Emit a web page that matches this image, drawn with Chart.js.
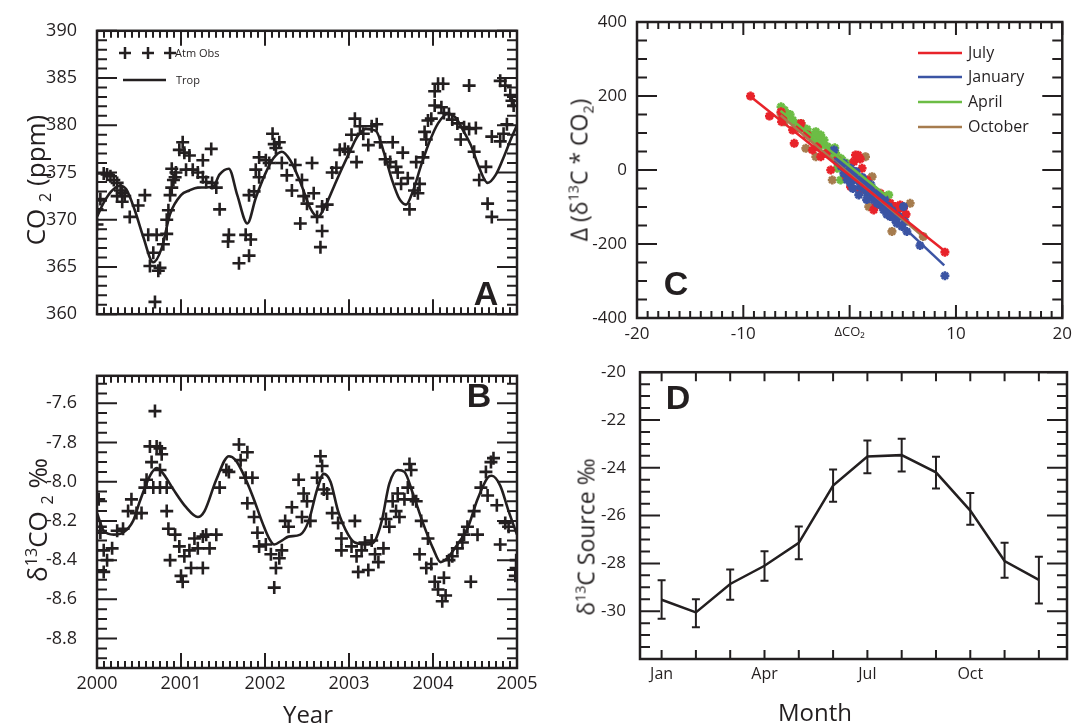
<!doctype html>
<html lang="en">
<head>
<meta charset="utf-8">
<title>CO2 and d13C panels</title>
<script src="https://cdn.jsdelivr.net/npm/chart.js@4.4.1/dist/chart.umd.min.js"></script>
<style>
    body {
        margin: 0;
        width: 1078px;
        height: 727px;
        position: relative;
        overflow: hidden;
        background: #fff;
        font-family: "Open Sans", "Noto Sans", sans-serif;
        color: #231f20;
    }
    canvas { position: absolute; }
    .t { position: absolute; white-space: nowrap; line-height: 1; }
    .c { transform: translate(-50%, -50%); }
    .v { transform: translate(-50%, -50%) rotate(-90deg); }
    .k { font-family: "Liberation Sans", Arial, sans-serif; font-weight: bold; font-size: 34px; }
    sub, sup { font-size: 62%; line-height: 0; }
</style>
</head>
<body>
<canvas id="panelA"></canvas>
<canvas id="panelB"></canvas>
<canvas id="panelC"></canvas>
<canvas id="panelD"></canvas>

<!-- axis titles and panel letters -->
<div class="t v" style="left:35px;top:180px;font-size:26px">CO <sub>2</sub> (ppm)</div>
<div class="t v" style="left:37px;top:520px;font-size:26px">&delta;<sup>13</sup>CO <sub>2</sub> &permil;</div>
<div class="t c" style="left:308px;top:714px;font-size:24px">Year</div>
<div class="t c" style="left:815px;top:712px;font-size:24px">Month</div>
<div class="t v" style="left:579px;top:170px;font-size:23px">&Delta; (&delta;<sup>13</sup>C * CO<sub>2</sub>)</div>
<div class="t v" style="left:586px;top:537px;font-size:23px">&delta;<sup>13</sup>C Source &permil;</div>
<div class="t c k" style="left:486px;top:293px">A</div>
<div class="t c k" style="left:479px;top:395px">B</div>
<div class="t c k" style="left:676px;top:283px">C</div>
<div class="t c k" style="left:678px;top:397px">D</div>

<!-- legends -->
<div class="t" style="left:175px;top:47px;font-size:11px">Atm Obs</div>
<div class="t" style="left:176px;top:74px;font-size:11px">Trop</div>
<div class="t" style="left:968px;top:44px;font-size:16px">July</div>
<div class="t" style="left:968px;top:68px;font-size:16px">January</div>
<div class="t" style="left:968px;top:93px;font-size:16px">April</div>
<div class="t" style="left:968px;top:118px;font-size:16px">October</div>

<script>
    // ---- panel A: CO2 observations and TROP model ----
    var atmYears = [2000.00, 2000.00, 2000.04, 2000.08, 2000.12, 2000.16, 2000.20, 2000.24, 2000.28, 2000.30,
        2000.33, 2000.24, 2000.30, 2000.39, 2000.49, 2000.57, 2000.61, 2000.71, 2000.67, 2000.63,
        2000.73, 2000.75, 2000.69, 2000.79, 2000.83, 2000.83, 2000.85, 2000.87, 2000.89, 2000.91,
        2000.93, 2000.89, 2000.94, 2000.98, 2001.02, 2001.04, 2001.10, 2001.06, 2001.14, 2001.20,
        2001.26, 2001.26, 2001.30, 2001.36, 2001.37, 2001.42, 2001.46, 2001.57, 2001.56, 2001.69,
        2001.81, 2001.77, 2001.83, 2001.81, 2001.87, 2001.89, 2001.93, 2001.93, 2002.01, 2002.05,
        2002.09, 2002.11, 2002.17, 2002.13, 2002.20, 2002.26, 2002.32, 2002.36, 2002.44, 2002.42,
        2002.46, 2002.50, 2002.56, 2002.58, 2002.62, 2002.68, 2002.66, 2002.68, 2002.74, 2002.80,
        2002.85, 2002.89, 2002.95, 2002.99, 2003.03, 2003.07, 2003.09, 2003.13, 2003.17, 2003.23,
        2003.27, 2003.33, 2003.37, 2003.43, 2003.49, 2003.52, 2003.56, 2003.58, 2003.64, 2003.62,
        2003.70, 2003.72, 2003.78, 2003.80, 2003.82, 2003.84, 2003.88, 2003.90, 2003.92, 2003.94,
        2003.98, 2004.02, 2004.06, 2004.12, 2004.02, 2004.10, 2004.13, 2004.19, 2004.23, 2004.29,
        2004.33, 2004.37, 2004.43, 2004.43, 2004.51, 2004.49, 2004.55, 2004.63, 2004.65, 2004.70,
        2004.70, 2004.80, 2004.84, 2004.88, 2004.80, 2004.86, 2004.92, 2004.94, 2004.96];
    var atmCO2 = [371.1, 369.5, 372.2, 374.9, 374.8, 374.6, 374.2, 373.9, 373.1, 372.8,
        372.5, 372.5, 371.9, 370.3, 371.5, 372.6, 368.4, 368.4, 366.5, 365.1,
        364.6, 364.9, 361.3, 367.4, 368.5, 370.0, 371.0, 372.6, 373.4, 374.2,
        374.5, 375.4, 375.0, 377.4, 378.2, 377.1, 376.8, 375.3, 375.3, 375.0,
        376.3, 374.5, 374.0, 377.5, 373.9, 373.4, 371.1, 368.4, 367.7, 365.4,
        366.2, 368.4, 367.9, 372.6, 373.0, 375.3, 374.5, 376.6, 376.3, 376.0,
        379.1, 378.0, 378.2, 377.6, 376.0, 374.7, 373.1, 375.8, 374.2, 369.6,
        372.5, 371.7, 376.0, 372.8, 370.3, 368.8, 367.1, 371.4, 371.6, 375.0,
        375.5, 377.4, 377.5, 377.2, 379.0, 380.7, 376.1, 379.9, 379.1, 377.9,
        379.9, 380.1, 378.2, 376.4, 376.1, 378.2, 375.6, 375.0, 377.1, 373.8,
        374.4, 371.1, 373.1, 376.1, 372.8, 373.8, 376.6, 379.3, 378.5, 380.5,
        380.7, 383.6, 384.4, 384.4, 382.1, 381.9, 381.3, 381.2, 380.6, 380.2,
        378.5, 379.8, 384.2, 379.6, 379.7, 377.2, 374.2, 375.6, 371.7, 370.3,
        378.8, 378.3, 379.1, 380.1, 384.7, 384.2, 383.2, 382.6, 382.1];
    var tropYearsA = [2000.00, 2000.08, 2000.17, 2000.27, 2000.35, 2000.45, 2000.55, 2000.67, 2000.77, 2000.87,
        2001.00, 2001.10, 2001.20, 2001.38, 2001.46, 2001.57, 2001.67, 2001.79, 2001.89, 2002.00,
        2002.10, 2002.20, 2002.30, 2002.42, 2002.54, 2002.63, 2002.72, 2002.82, 2002.92, 2003.02,
        2003.10, 2003.20, 2003.32, 2003.42, 2003.52, 2003.60, 2003.68, 2003.76, 2003.86, 2003.96,
        2004.06, 2004.17, 2004.27, 2004.35, 2004.45, 2004.55, 2004.65, 2004.75, 2004.85, 2004.93, 2005.00];
    var tropCO2 = [370.3, 371.8, 373.0, 373.6, 373.2, 371.0, 368.2, 365.5, 367.0, 370.6,
        372.6, 373.1, 373.4, 373.5, 374.8, 375.4, 372.6, 369.6, 372.3, 374.8,
        376.5, 377.2, 376.3, 374.0, 371.2, 370.3, 371.5, 373.5, 375.5, 377.4,
        378.8, 379.6, 379.4, 377.0, 374.0, 372.2, 371.6, 373.0, 375.8, 378.3,
        380.2, 381.2, 380.8, 379.6, 377.9, 375.5, 373.9, 374.8, 376.8, 378.6, 380.0];

    // ---- panel B: d13C of CO2 ----
    var d13Years = [2000.02, 2000.04, 2000.04, 2000.08, 2000.12, 2000.08, 2000.18, 2000.24, 2000.31, 2000.41,
        2000.37, 2000.47, 2000.53, 2000.57, 2000.59, 2000.65, 2000.63, 2000.69, 2000.71, 2000.75,
        2000.77, 2000.75, 2000.67, 2000.75, 2000.83, 2000.83, 2000.85, 2000.87, 2000.93, 2000.98,
        2001.00, 2001.02, 2001.04, 2001.10, 2001.12, 2001.16, 2001.20, 2001.26, 2001.26, 2001.30,
        2001.34, 2001.42, 2001.46, 2001.54, 2001.57, 2001.69, 2001.71, 2001.79, 2001.77, 2001.85,
        2001.79, 2001.87, 2001.91, 2001.93, 2002.01, 2002.07, 2002.11, 2002.13, 2002.17, 2002.20,
        2002.24, 2002.28, 2002.32, 2002.40, 2002.44, 2002.46, 2002.50, 2002.54, 2002.62, 2002.66,
        2002.68, 2002.70, 2002.74, 2002.80, 2002.87, 2002.91, 2002.91, 2003.03, 2003.07, 2003.09,
        2003.11, 2003.15, 2003.19, 2003.23, 2003.27, 2003.31, 2003.35, 2003.41, 2003.44, 2003.48,
        2003.52, 2003.56, 2003.58, 2003.60, 2003.66, 2003.70, 2003.72, 2003.74, 2003.76, 2003.80,
        2003.86, 2003.94, 2003.84, 2003.92, 2003.98, 2004.02, 2004.06, 2004.11, 2004.15, 2004.13,
        2004.19, 2004.23, 2004.29, 2004.35, 2004.37, 2004.41, 2004.45, 2004.49, 2004.53, 2004.57,
        2004.63, 2004.65, 2004.69, 2004.72, 2004.76, 2004.80, 2004.86, 2004.90, 2004.98, 2004.99, 2004.99];
    var d13Obs = [-8.09, -8.23, -8.26, -8.35, -8.40, -8.46, -8.34, -8.25, -8.24, -8.09,
        -8.15, -8.16, -8.16, -8.03, -7.99, -7.90, -7.82, -7.64, -7.82, -7.83,
        -7.86, -7.94, -8.03, -8.03, -8.03, -8.15, -8.24, -8.40, -8.27, -8.33,
        -8.48, -8.51, -8.38, -8.35, -8.44, -8.29, -8.34, -8.44, -8.28, -8.27,
        -8.34, -8.27, -8.03, -7.94, -7.95, -7.81, -7.89, -7.85, -7.98, -7.98,
        -8.11, -8.18, -8.26, -8.33, -8.32, -8.37, -8.54, -8.44, -8.39, -8.35,
        -8.20, -8.23, -8.13, -7.99, -8.18, -8.06, -8.10, -8.20, -7.98, -7.87,
        -7.92, -8.04, -8.06, -8.16, -8.21, -8.29, -8.35, -8.33, -8.20, -8.38,
        -8.46, -8.35, -8.31, -8.45, -8.30, -8.37, -8.41, -8.34, -8.19, -8.23,
        -8.10, -8.15, -8.06, -8.18, -8.09, -8.03, -7.91, -7.94, -8.09, -8.10,
        -8.20, -8.29, -8.37, -8.44, -8.42, -8.51, -8.55, -8.61, -8.58, -8.49,
        -8.40, -8.38, -8.34, -8.31, -8.27, -8.23, -8.51, -8.15, -8.27, -8.03,
        -7.95, -8.07, -7.90, -7.88, -8.12, -8.32, -8.21, -8.23, -8.48, -8.40, -8.44];
    var tropYearsB = [2000.00, 2000.08, 2000.20, 2000.31, 2000.43, 2000.51, 2000.63, 2000.71, 2000.79, 2000.91,
        2001.06, 2001.20, 2001.28, 2001.42, 2001.57, 2001.65, 2001.73, 2001.85, 2001.97, 2002.05,
        2002.11, 2002.20, 2002.28, 2002.42, 2002.52, 2002.62, 2002.70, 2002.78, 2002.87, 2002.99,
        2003.07, 2003.23, 2003.31, 2003.39, 2003.48, 2003.58, 2003.66, 2003.76, 2003.88, 2004.00,
        2004.09, 2004.17, 2004.29, 2004.41, 2004.53, 2004.65, 2004.70, 2004.80, 2004.90, 2005.00];
    var tropD13 = [-8.16, -8.25, -8.27, -8.26, -8.20, -8.10, -7.97, -7.93, -7.96, -8.04,
        -8.13, -8.18, -8.15, -7.99, -7.87, -7.89, -7.95, -8.07, -8.21, -8.29,
        -8.32, -8.30, -8.28, -8.27, -8.20, -8.04, -7.96, -8.00, -8.15, -8.27,
        -8.31, -8.32, -8.30, -8.20, -8.01, -7.94, -7.95, -8.06, -8.21, -8.34,
        -8.41, -8.39, -8.32, -8.24, -8.09, -7.98, -7.97, -8.02, -8.15, -8.27];

    // ---- panel C: anomaly of d13C*CO2 against anomaly of CO2 ----
    var julyDx = [-9.32, -7.54, -6.45, -6.30, -6.40, -5.21, -5.36, -4.58, -4.70, -3.50, -3.03, -2.72, -1.78, -1.16,
        0.55, 0.40, 1.17, 0.09, 1.02, 2.26, 2.26, 3.20, 3.82, 4.29, 4.75, 5.07, 4.13, 8.96, 0.24, 1.64, 2.89,
        2.50, 3.50, 4.50, 5.30, 1.00, 0.80, -0.30, -2.20, -4.00];
    var julyDy = [199.7, 145.7, 157.4, 139.4, 130.4, 72, 108, 126, 112, 54, 63, 36, 0, 27,
        40.6, 22.6, 4.6, -44.8, -53.8, -71.8, -107.8, -76, -89.8, -98.8, -94.3, -103, -112, -222, -22.4, -27, -62.8,
        -95, -100, -110, -120, 30, 40, -20, 45, 95];
    var janDx = [-1.47, -1.16, -0.54, -0.23, 0.09, 0.40, 0.71, 0.09, 1.02, 1.33, 1.64, 1.95, 2.26, 2.57, 2.89, 3.20,
        3.67, 3.82, 4.29, 4.44, 4.91, 5.07, 5.38, 6.62, 8.96, -0.54, 0.55, -0.23, 0.86, 1.80, 2.40, 3.00,
        -0.80, 0.20, 0.60, 1.20, 1.40, 2.00, 2.10, 2.60, 3.30, 3.50, 4.00, 4.60, 5.20, 2.90, 1.60, 0.30];
    var janDy = [54, 22.6, 18, -4.4, 4.6, -18, -27, -36, -44.8, -31.3, -62.8, -53.8, -80.8, -62.8, -94.3, -107.8,
        -98.8, -125.8, -134.8, -143.8, -152.7, -98.8, -166.2, -204, -285.8, -9, -4.4, -27, -67.3, -40, -70, -85,
        10, -10, -5, -20, -50, -40, -60, -90, -80, -120, -110, -125, -140, -75, -80, -50];
    var aprDx = [-6.45, -6.14, -5.83, -5.36, -4.58, -4.27, -3.96, -3.18, -3.50, -2.72, -2.41, -2.09, -2.72,
        -1.32, -0.85, -1.16, -0.85, -0.70, -0.23, 1.49, 3.67,
        -5.60, -4.80, -4.00, -3.70, -3.30, -3.00, -2.50, -2.00, -1.70, -1.40, -1.00, -0.50];
    var aprDy = [170.9, 161.9, 148.4, 134.9, 126, 112, 99, 103.5, 85.5, 94.5, 81, 63, 67.5,
        45, 31.5, 4.6, -27, 27, 18, -53.8, -67.3,
        150, 118, 110, 92, 95, 80, 70, 50, 40, 60, 15, 5];
    var octDx = [-6.45, -6.14, -5.05, -4.12, -3.18, -1.63, 1.49, 2.11, 1.80, 3.98, 5.69, 6.93, 2.26, 5.07];
    var octDy = [153, 130.4, 126, 58.5, 36, -27, 36, -18, -99, -166, -90, -180, -53.8, -126];
    // fitted lines, end points
    var julyFitX = [-9.3, 9.0], julyFitY = [198, -220];
    var janFitX = [-1.5, 8.9], janFitY = [23, -258];
    var aprFitX = [-6.5, 3.5], aprFitY = [160, -70];
    var octFitX = [-6.5, 6.9], octFitY = [148, -180];

    // ---- panel D: source signature by month ----
    var monthNames = ["Jan", "Feb", "Mar", "Apr", "May", "Jun", "Jul", "Aug", "Sep", "Oct", "Nov", "Dec"];
    var monthNum = [1, 2, 3, 4, 5, 6, 7, 8, 9, 10, 11, 12];
    var srcD13 = [-29.52, -30.05, -28.86, -28.10, -27.14, -24.74, -23.53, -23.47, -24.19, -25.79, -27.90, -28.69];
    var srcHi = [-28.70, -29.50, -28.25, -27.49, -26.46, -24.07, -22.86, -22.78, -23.54, -25.05, -27.14, -27.72];
    var srcLo = [-30.32, -30.67, -29.52, -28.73, -27.83, -25.42, -24.23, -24.15, -24.87, -26.38, -28.60, -29.68];

    var INK = "#231f20";
    var RED = "#e8232a", BLUE = "#3b54a4", GREEN = "#6cbd45", BROWN = "#a67c4e";

    Chart.defaults.font.family = '"Open Sans", "Noto Sans", sans-serif';
    Chart.defaults.color = INK;

    function pts(xs, ys) {
        return xs.map(function(x, i) { return {x: x, y: ys[i]}; });
    }

    function seq(a, b, step) {
        var out = [];
        var n = Math.round((b - a) / step);
        for (var i = 0; i <= n; i++) out.push(+(a + i * step).toFixed(6));
        return out;
    }

    // frame with inward ticks on all four sides
    var framePlugin = {
        id: "frame",
        afterDatasetsDraw: function(chart, args, o) {
            var ctx = chart.ctx, a = chart.chartArea, sx = chart.scales.x, sy = chart.scales.y;
            ctx.save();
            ctx.strokeStyle = INK;
            ctx.lineWidth = 2;
            ctx.beginPath();
            o.x.forEach(function(set) {
                set[0].forEach(function(v) {
                    var p = sx.getPixelForValue(v);
                    ctx.moveTo(p, a.bottom); ctx.lineTo(p, a.bottom - set[1]);
                    ctx.moveTo(p, a.top); ctx.lineTo(p, a.top + set[1]);
                });
            });
            o.y.forEach(function(set) {
                set[0].forEach(function(v) {
                    var p = sy.getPixelForValue(v);
                    ctx.moveTo(a.left, p); ctx.lineTo(a.left + set[1], p);
                    ctx.moveTo(a.right, p); ctx.lineTo(a.right - set[1], p);
                });
            });
            ctx.stroke();
            ctx.lineWidth = 2.5;
            ctx.strokeRect(a.left, a.top, a.right - a.left, a.bottom - a.top);
            ctx.restore();
        }
    };

    // legend symbols (crosses / short lines) at fixed spots
    var keysPlugin = {
        id: "keys",
        afterDraw: function(chart, args, o) {
            if (!o.items) return;
            var ctx = chart.ctx;
            ctx.save();
            o.items.forEach(function(it) {
                ctx.strokeStyle = it.color || INK;
                ctx.lineWidth = it.width || 2.5;
                ctx.beginPath();
                if (it.type === "cross") {
                    ctx.moveTo(it.x - 6, it.y); ctx.lineTo(it.x + 6, it.y);
                    ctx.moveTo(it.x, it.y - 6); ctx.lineTo(it.x, it.y + 6);
                } else {
                    ctx.moveTo(it.x1, it.y); ctx.lineTo(it.x2, it.y);
                }
                ctx.stroke();
            });
            ctx.restore();
        }
    };

    var errPlugin = {
        id: "errbars",
        afterDatasetsDraw: function(chart, args, o) {
            if (!o.hi) return;
            var ctx = chart.ctx, sx = chart.scales.x, sy = chart.scales.y;
            ctx.save();
            ctx.strokeStyle = INK;
            ctx.lineWidth = 2;
            ctx.beginPath();
            o.x.forEach(function(v, i) {
                var px = sx.getPixelForValue(v), ph = sy.getPixelForValue(o.hi[i]), pl = sy.getPixelForValue(o.lo[i]);
                ctx.moveTo(px, ph); ctx.lineTo(px, pl);
                ctx.moveTo(px - 4, ph); ctx.lineTo(px + 4, ph);
                ctx.moveTo(px - 4, pl); ctx.lineTo(px + 4, pl);
            });
            ctx.stroke();
            ctx.restore();
        }
    };

    function makePanel(id, box, area, spec) {
        var cv = document.getElementById(id);
        cv.width = box.w;
        cv.height = box.h;
        cv.style.left = box.x + "px";
        cv.style.top = box.y + "px";
        function axis(ax, fit) {
            return {
                type: "linear",
                min: ax.min,
                max: ax.max,
                grid: {display: false, drawTicks: false},
                border: {display: false},
                afterBuildTicks: function(s) { s.ticks = ax.labels.map(function(v) { return {value: v}; }); },
                afterFit: fit,
                ticks: {
                    display: ax.show !== false,
                    padding: ax.pad || 0,
                    autoSkip: false,
                    maxRotation: 0,
                    font: ax.font || {size: 17},
                    color: INK,
                    callback: ax.fmt || function(v) { return v; }
                }
            };
        }
        return new Chart(cv, {
            type: "scatter",
            data: {datasets: spec.datasets},
            options: {
                responsive: false,
                animation: false,
                devicePixelRatio: 1,
                layout: {padding: {left: 0, top: area.t - box.y, right: box.x + box.w - area.r, bottom: 0}},
                plugins: {
                    legend: {display: false},
                    tooltip: {enabled: false},
                    frame: spec.frame,
                    keys: spec.keys || {},
                    errbars: spec.err || {}
                },
                scales: {
                    x: axis(spec.x, function(s) { s.height = box.y + box.h - area.b; }),
                    y: axis(spec.y, function(s) { s.width = area.l - box.x; })
                }
            },
            plugins: [framePlugin, keysPlugin, errPlugin]
        });
    }

    function crosses(xs, ys) {
        return {data: pts(xs, ys), pointStyle: "cross", pointRadius: 6.5, borderColor: INK, borderWidth: 2.6};
    }

    function curve(xs, ys) {
        return {data: pts(xs, ys), showLine: true, pointRadius: 0, borderColor: INK, borderWidth: 2.6,
            tension: 0.4, cubicInterpolationMode: "monotone"};
    }

    function stars(xs, ys, col) {
        return {data: pts(xs, ys), pointStyle: "star", pointRadius: 4.5, borderColor: col, backgroundColor: col,
            borderWidth: 2.6};
    }

    function fit(xs, ys, col) {
        return {data: pts(xs, ys), showLine: true, pointRadius: 0, borderColor: col, borderWidth: 2.5};
    }

    var yearTicks = [[seq(2000, 2005, 1), 15], [seq(2000, 2005, 1 / 12), 7]];

    makePanel("panelA", {x: 0, y: 0, w: 560, h: 345}, {l: 97, t: 22, r: 517, b: 338}, {
        datasets: [curve(tropYearsA, tropCO2), crosses(atmYears, atmCO2)],
        x: {min: 2000, max: 2005, labels: seq(2000, 2005, 1), show: false},
        y: {min: 360, max: 390, labels: seq(360, 390, 5), pad: 20, font: {size: 18}},
        frame: {x: yearTicks, y: [[seq(360, 390, 5), 20], [seq(360, 390, 1), 10]]},
        keys: {items: [
            {type: "cross", x: 125, y: 53}, {type: "cross", x: 148, y: 53}, {type: "cross", x: 170, y: 53},
            {type: "line", x1: 123, x2: 166, y: 80, width: 2.5}
        ]}
    });

    makePanel("panelB", {x: 0, y: 345, w: 560, h: 382}, {l: 97, t: 350, r: 517, b: 668}, {
        datasets: [curve(tropYearsB, tropD13), crosses(d13Years, d13Obs)],
        x: {min: 2000, max: 2005, labels: seq(2000, 2005, 1), pad: 5, font: {size: 18}},
        y: {min: -8.95, max: -7.46, labels: seq(-8.8, -7.6, 0.2), pad: 20, font: {size: 18},
            fmt: function(v) { return v.toFixed(1); }},
        frame: {x: yearTicks, y: [[seq(-8.8, -7.6, 0.2), 20], [seq(-8.95, -7.5, 0.05), 10]]}
    });

    makePanel("panelC", {x: 560, y: 0, w: 518, h: 348}, {l: 637, t: 22, r: 1067, b: 318}, {
        datasets: [
            fit(julyFitX, julyFitY, RED), fit(janFitX, janFitY, BLUE),
            fit(octFitX, octFitY, BROWN), fit(aprFitX, aprFitY, GREEN),
            stars(janDx, janDy, BLUE), stars(julyDx, julyDy, RED),
            stars(aprDx, aprDy, GREEN), stars(octDx, octDy, BROWN)
        ],
        x: {min: -20, max: 20, labels: [-20, -10, 0, 10, 20], pad: 6,
            font: function(c) { return {size: c.tick && c.tick.value === 0 ? 13 : 17}; },
            fmt: function(v) { return v === 0 ? "\u0394CO\u2082" : v; }},
        y: {min: -400, max: 400, labels: [-400, -200, 0, 200, 400], pad: 10},
        frame: {x: [[seq(-20, 20, 10), 13], [seq(-20, 20, 1), 7]], y: [[seq(-400, 400, 200), 20], [seq(-400, 400, 50), 10]]},
        keys: {items: [
            {type: "line", x1: 358, x2: 402, y: 53, color: RED, width: 2.5},
            {type: "line", x1: 358, x2: 402, y: 77, color: BLUE, width: 2.5},
            {type: "line", x1: 358, x2: 402, y: 102, color: GREEN, width: 2.5},
            {type: "line", x1: 358, x2: 402, y: 127, color: BROWN, width: 2.5}
        ]}
    });

    makePanel("panelD", {x: 560, y: 348, w: 518, h: 379}, {l: 640, t: 356, r: 1067, b: 659}, {
        datasets: [{data: pts(monthNum, srcD13), showLine: true, pointRadius: 0, borderColor: INK, borderWidth: 2.5}],
        x: {min: 0.37, max: 12.82, labels: [1, 4, 7, 10], pad: 6, font: {size: 16},
            fmt: function(v) { return monthNames[v - 1]; }},
        y: {min: -32, max: -20, labels: seq(-30, -20, 2), pad: 14},
        frame: {x: [[monthNum, 9]], y: [[seq(-32, -20, 2), 20], [seq(-32, -20, 0.5), 10]]},
        err: {x: monthNum, hi: srcHi, lo: srcLo}
    });
</script>
</body>
</html>
